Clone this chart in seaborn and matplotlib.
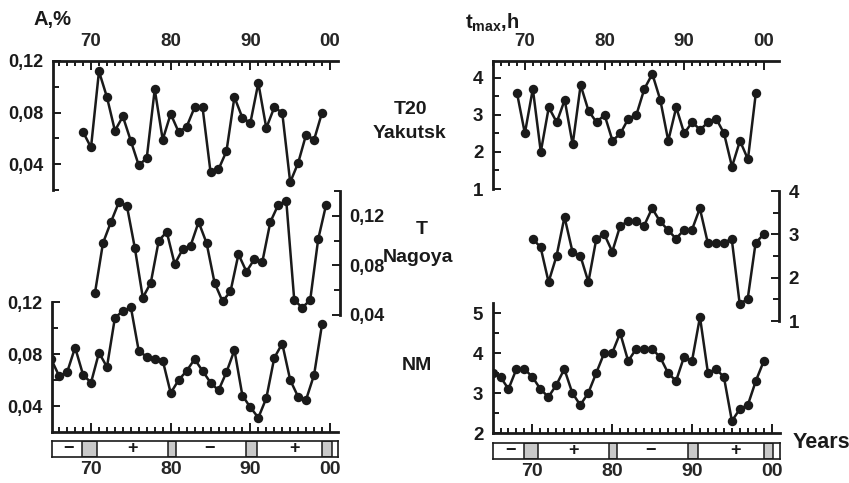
import matplotlib
matplotlib.use("Agg")
import matplotlib.pyplot as plt
import seaborn as sns

# ---- data ----
years_top = list(range(1969, 2000))
years_mid = list(range(1970, 2000))
years_nm = list(range(1965, 2000))

a_yakutsk = [0.065, 0.053, 0.112, 0.092, 0.066, 0.077, 0.058, 0.039, 0.045, 0.098,
             0.059, 0.079, 0.065, 0.069, 0.084, 0.084, 0.034, 0.036, 0.050, 0.092,
             0.076, 0.072, 0.103, 0.068, 0.084, 0.080, 0.026, 0.041, 0.063, 0.059, 0.080]
a_nagoya = [0.058, 0.098, 0.115, 0.131, 0.128, 0.094, 0.054, 0.066, 0.100, 0.107,
            0.081, 0.093, 0.096, 0.115, 0.098, 0.066, 0.051, 0.059, 0.089, 0.075,
            0.085, 0.083, 0.115, 0.129, 0.132, 0.052, 0.046, 0.052, 0.101, 0.129]
a_nm = [0.076, 0.063, 0.066, 0.085, 0.064, 0.058, 0.081, 0.070, 0.108, 0.113,
        0.116, 0.082, 0.078, 0.076, 0.075, 0.050, 0.060, 0.067, 0.076, 0.067,
        0.058, 0.052, 0.066, 0.083, 0.048, 0.039, 0.031, 0.046, 0.077, 0.088,
        0.060, 0.047, 0.045, 0.064, 0.103]

t_yakutsk = [3.6, 2.5, 3.7, 2.0, 3.2, 2.8, 3.4, 2.2, 3.8, 3.1,
             2.8, 3.0, 2.3, 2.5, 2.9, 3.0, 3.7, 4.1, 3.4, 2.3,
             3.2, 2.5, 2.8, 2.6, 2.8, 2.9, 2.5, 1.6, 2.3, 1.8, 3.6]
t_nagoya = [2.9, 2.7, 1.9, 2.5, 3.4, 2.6, 2.5, 1.9, 2.9, 3.0,
            2.6, 3.2, 3.3, 3.3, 3.2, 3.6, 3.3, 3.1, 2.9, 3.1,
            3.1, 3.6, 2.8, 2.8, 2.8, 2.9, 1.4, 1.5, 2.8, 3.0]
t_nm = [3.5, 3.4, 3.1, 3.6, 3.6, 3.4, 3.1, 2.9, 3.2, 3.6,
        3.0, 2.7, 3.0, 3.5, 4.0, 4.0, 4.5, 3.8, 4.1, 4.1,
        4.1, 3.9, 3.5, 3.3, 3.9, 3.8, 4.9, 3.5, 3.6, 3.4,
        2.3, 2.6, 2.7, 3.3, 3.8]

decade_ticks = [1970, 1980, 1990, 2000]
decade_labels = ["70", "80", "90", "00"]

# solar-cycle polarity strip
strip_gray = [(1968.9, 1970.7), (1979.6, 1980.6), (1989.5, 1990.8), (1999.0, 2000.2)]
strip_signs = ["\u2212", "+", "\u2212", "+"]
strip_sign_years = [1967.2, 1975.2, 1984.8, 1995.5]

# ---- style ----
sns.set_theme(style="white")
plt.rcParams['font.family'] = ['Liberation Sans', 'DejaVu Sans']
plt.rcParams['font.weight'] = 'bold'
plt.rcParams['mathtext.fontset'] = 'custom'
plt.rcParams['mathtext.rm'] = 'Liberation Sans:bold'
plt.rcParams['mathtext.it'] = 'Liberation Sans:bold'
plt.rcParams['mathtext.bf'] = 'Liberation Sans:bold'

INK = "#1a1a1a"
NARROW = ['Liberation Sans Narrow', 'Liberation Sans', 'DejaVu Sans']
W, H = 849, 483

fig = plt.figure(figsize=(W / 100, H / 100), dpi=100)


def px_axes(x0, y0, x1, y1):
    ax = fig.add_axes([x0 / W, 1 - y1 / H, (x1 - x0) / W, (y1 - y0) / H])
    ax.set_facecolor("none")
    for s in ax.spines.values():
        s.set_visible(False)
        s.set_linewidth(2.0)
        s.set_color(INK)
    ax.tick_params(which="both", left=False, right=False, top=False, bottom=False,
                   labelleft=False, labelright=False, labeltop=False, labelbottom=False)
    return ax


def series(ax, yrs, vals):
    sns.lineplot(x=yrs, y=vals, ax=ax, color=INK, linewidth=1.8, marker="o",
                 markersize=6.8, markeredgewidth=0, estimator=None)
    ax.set_xlabel("")
    ax.set_ylabel("")


def year_axis(ax, side, labels):
    ax.spines[side].set_visible(True)
    ax.set_xticks(decade_ticks)
    ax.set_xticks(range(1966, 2001), minor=True)
    if labels:
        ax.set_xticklabels(decade_labels, fontfamily=NARROW, fontsize=13.5, fontweight="bold")
    on = dict(top=(side == "top"), bottom=(side == "bottom"))
    ax.tick_params(axis="x", which="both", direction="in", color=INK, width=1.4, **on,
                   labeltop=(side == "top" and labels), labelbottom=(side == "bottom" and labels))
    ax.tick_params(axis="x", which="major", length=6.5, pad=8)
    ax.tick_params(axis="x", which="minor", length=3.5)
    if side == "top":
        ax.xaxis.set_ticks_position("top")


def value_axis(ax, side, major, labels, minor, size=13):
    ax.spines[side].set_visible(True)
    ax.set_yticks(major)
    ax.set_yticklabels(labels, fontsize=size, fontweight="bold", color=INK)
    ax.set_yticks(minor, minor=True)
    on = dict(left=(side == "left"), right=(side == "right"))
    ax.tick_params(axis="y", which="both", direction="in", color=INK, width=1.4, **on,
                   labelleft=(side == "left"), labelright=(side == "right"))
    ax.tick_params(axis="y", which="major", length=6, pad=7)
    ax.tick_params(axis="y", which="minor", length=4)
    if side == "right":
        ax.yaxis.set_ticks_position("right")


def strip(ax, xlim):
    ax.set_xlim(*xlim)
    ax.set_ylim(0, 1)
    for s in ax.spines.values():
        s.set_visible(True)
        s.set_linewidth(1.2)
    for a, b in strip_gray:
        ax.axvspan(a, b, facecolor="#c9c9c9", edgecolor=INK, linewidth=1.1)
    for sign, yr in zip(strip_signs, strip_sign_years):
        ax.text(yr, 0.5, sign, ha="center", va="center", fontsize=13, fontweight="bold", color=INK)
    ax.set_xticks(decade_ticks)
    ax.set_xticklabels(decade_labels, fontfamily=NARROW, fontsize=14, fontweight="bold")
    ax.tick_params(axis="x", bottom=True, length=0, pad=3, labelbottom=True)
    ax.set_yticks([])


a_major = [0.04, 0.08, 0.12]
a_labels = ["0,04", "0,08", "0,12"]
t_major = [1, 2, 3, 4]

# ---- left column: amplitude ----
ax = px_axes(53, 61, 338, 190)
series(ax, years_top, a_yakutsk)
ax.set_xlim(1965.23, 2001.0)
ax.set_ylim(0.02, 0.12)
year_axis(ax, "top", True)
value_axis(ax, "left", a_major, a_labels, [0.02, 0.06, 0.10])

ax = px_axes(53, 191, 340, 315)
series(ax, years_mid, a_nagoya)
ax.set_xlim(1964.73, 2000.74)
ax.set_ylim(0.04, 0.14)
value_axis(ax, "right", a_major, a_labels, [0.06, 0.10, 0.14])

ax = px_axes(52, 302, 338, 432)
series(ax, years_nm, a_nm)
ax.set_xlim(1965.1, 2001.0)
ax.set_ylim(0.02, 0.12)
year_axis(ax, "bottom", False)
value_axis(ax, "left", a_major, a_labels, [0.06, 0.10])

ax = px_axes(52, 441, 338, 457)
strip(ax, (1965.07, 2001.0))

# ---- right column: time of maximum ----
ax = px_axes(493, 61, 779, 189)
series(ax, years_top, t_yakutsk)
ax.set_xlim(1966.06, 2001.9)
ax.set_ylim(1, 4.45)
year_axis(ax, "top", True)
value_axis(ax, "left", t_major, ["1", "2", "3", "4"], [1.5, 2.5, 3.5], size=13.5)

ax = px_axes(493, 191, 779, 321)
series(ax, years_mid, t_nagoya)
ax.set_xlim(1965.02, 2000.94)
ax.set_ylim(1, 4)
value_axis(ax, "right", t_major, ["1", "2", "3", "4"], [1.5, 2.5, 3.5], size=13.5)

ax = px_axes(493, 303, 780, 433)
series(ax, years_nm, t_nm)
ax.set_xlim(1965.06, 2001.03)
ax.set_ylim(2, 5.25)
year_axis(ax, "bottom", False)
value_axis(ax, "left", [2, 3, 4, 5], ["2", "3", "4", "5"], [2.5, 3.5, 4.5], size=13.5)

ax = px_axes(493, 443, 780, 459)
strip(ax, (1965.06, 2001.03))

# ---- titles and panel names ----
def ftext(x, y, s, size=14, **kw):
    fig.text(x / W, 1 - y / H, s, ha="center", va="center", fontsize=size,
             fontweight="bold", color=INK, **kw)

ftext(52, 19, "A,%", size=14.5)
ftext(492, 23, r"$\mathrm{t}_{\mathrm{max}}$,h", size=14.5)
ftext(410, 109, "T20")
ftext(409, 134, "Yakutsk")
ftext(422, 230, "T")
ftext(418, 257, "Nagoya")
ftext(417, 365, "NM")
ftext(821, 443, "Years", size=15.5)

fig.savefig("out.png", dpi=100)
